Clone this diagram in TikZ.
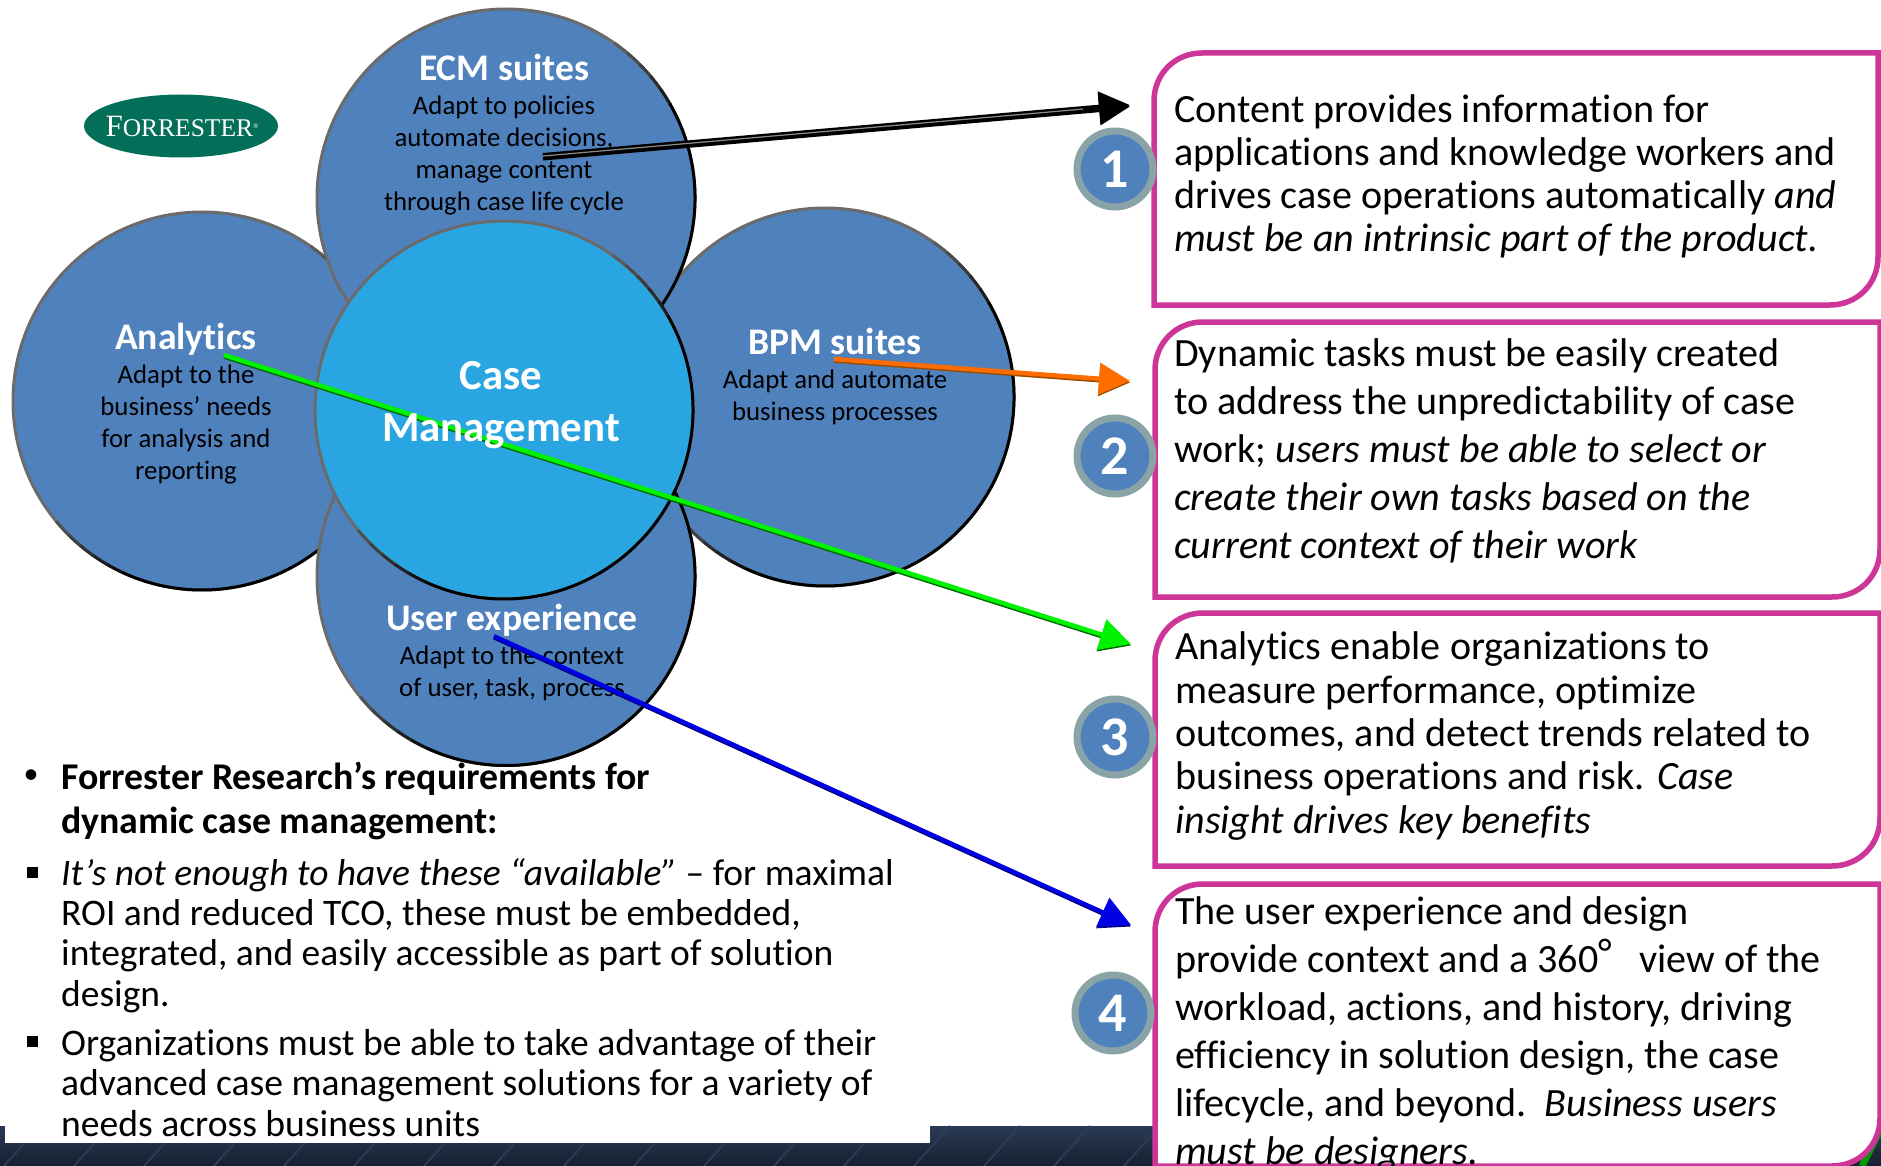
\documentclass[tikz,border=0pt]{standalone}
\usepackage{fontspec}
\setmainfont[RawFeature={-liga}]{Carlito}
\newfontfamily\logofont{Liberation Serif}
\usetikzlibrary{arrows.meta,shapes.geometric,calc}
\definecolor{petal}{HTML}{4F81BD}
\definecolor{hub}{HTML}{29A6E1}
\definecolor{rimgray}{HTML}{6B6B6B}
\definecolor{boxpink}{HTML}{CE3598}
\definecolor{badgerim}{HTML}{8AA3A6}
\definecolor{navytop}{HTML}{2A3A55}
\definecolor{navybot}{HTML}{161F30}
\definecolor{navylight}{HTML}{2E3B55}
\definecolor{logogreen}{HTML}{046F58}
\newcommand{\fs}[2]{\fontsize{#1}{#2}\selectfont}
\newcommand{\diagbox}[4]{%
  \draw[pinkbox] (#1,#4) -- (#1,#2+48) .. controls (#1,#2+21) and (#1+21,#2) .. (#1+48,#2)
    -- (#3,#2) -- (#3,#4-48) .. controls (#3,#4-21) and (#3-21,#4) .. (#3-48,#4) -- cycle;}
\newcommand{\rimarc}[1]{%
  \foreach \ang/\mix in {55/15,50/30,45/45,40/60,35/75}{
    \draw[black!\mix!rimgray,line width=3pt] ($(#1.center)!189pt!(#1.\ang)$) arc[start angle=\ang,delta angle=-5.5,radius=189pt];}
  \foreach \ang/\mix in {-115/85,-120/70,-125/55,-130/40,-135/25}{
    \draw[black!\mix!rimgray,line width=3pt] ($(#1.center)!189pt!(#1.\ang)$) arc[start angle=\ang,delta angle=-5.5,radius=189pt];}
  \draw[black,line width=3pt] ($(#1.center)!189pt!(#1.30)$) arc[start angle=30,end angle=-115,radius=189pt];}
\newcommand{\bevelarrow}[6]{%
  \draw[line width=#5pt,#4,-{Triangle[length=31pt,width=31pt]},transform canvas={yshift=-#6pt}] (#1) -- (#2);
  \draw[line width=#5pt,#3,-{Triangle[length=31pt,width=31pt]}] (#1) -- (#2);}
\tikzset{
  petalc/.style={circle,draw=rimgray,line width=3pt,fill=petal,minimum size=378pt,inner sep=0pt},
  hubc/.style={petalc,fill=hub},
  pinkbox/.style={draw=boxpink,line width=5.5pt,fill=white,line join=miter},
  badge/.style={circle,draw=badgerim,line width=7pt,fill=petal,minimum size=76pt,inner sep=0pt,text=white,font=\fs{56}{56}\bfseries},
  head/.style={text=white,font=\fs{37.6}{37.6}\bfseries,inner sep=0pt},
  body/.style={text=black,align=center,font=\fs{26.8}{32},inner sep=0pt},
  hubt/.style={text=white,font=\fs{42.8}{52}\bfseries,align=center,inner sep=0pt},
  para/.style={anchor=west,align=left,inner sep=0pt,text=black},
}
\begin{document}
\begin{tikzpicture}[x=1pt,y=-1pt]
\useasboundingbox (0,0) rectangle (1881,1166);
% band
\shade[top color=navytop,bottom color=navybot] (0,1126) rectangle (1881,1166);
\foreach \sx in {40,110,...,1880}
  \draw[navylight,line width=2pt] (\sx,1126) -- (\sx-36,1166);
\draw[green!60!black,line width=7pt] (1881,1128) -- (1862,1166);
\fill[white] (5,740) rectangle (930,1143);
% petals
\node[petalc] (analytics) at (202,401) {}; \rimarc{analytics}
\node[petalc] (bpm) at (825,397) {}; \rimarc{bpm}
\node[petalc] (ecm) at (506,198) {}; \rimarc{ecm}
\node[petalc] (ux) at (506,576.5) {}; \rimarc{ux}
\node[hubc] (hub) at (504,410) {}; \rimarc{hub}
% logo
\node[ellipse,fill=logogreen,minimum width=194pt,minimum height=63pt,inner sep=0pt] (logo) at (181,126) {};
\node[text=white,inner sep=0pt] (logotext) at (182,126) {\logofont\fs{31}{31}F\fs{25.5}{25.5}ORRESTER\raisebox{8pt}{\fs{7}{7}®}};
% petal texts
\node[head] (ecmh) at (504,67) {ECM suites};
\node[body] (ecmb) at (504,156) {Adapt to policies\\automate decisions,\\manage content\\through case life cycle};
\node[head] (anh) at (186,339) {Analytics};
\node[body] (anb) at (186,424.5) {Adapt to the\\business' needs\\for analysis and\\reporting};
\node[head] (bpmh) at (835,341) {BPM suites};
\node[body] (bpmb) at (835,397) {Adapt and automate\\business processes};
\node[head] (uxh) at (512,620) {User experience};
\node[body] (uxb) at (512,673) {Adapt to the context\\of user, task, process};
% arrow ends
\coordinate (a1s) at (543,156); \coordinate (a1e) at (1130,105);
\coordinate (a2s) at (834,359); \coordinate (a2e) at (1130,381);
\coordinate (a3s) at (224,355); \coordinate (a3e) at (1131,644);
\coordinate (a4s) at (494,636); \coordinate (a4e) at (1131,925);
% text boxes
\diagbox{1154}{53}{1878}{305}
\diagbox{1155}{322}{1880}{597}
\diagbox{1155}{613}{1880}{866}
\diagbox{1155}{884}{1880}{1166}
% arrows
\bevelarrow{a1s}{a1e}{black}{black}{6}{1.5}
\draw[black!45,line width=1.2pt] (a1s) -- ($(a1s)!0.92!(a1e)$);
\bevelarrow{a2s}{a2e}{orange!85!red}{orange!60!black}{4.5}{1.5}
\bevelarrow{a3s}{a3e}{green!95!black}{green!40!black}{4.5}{1.5}
\bevelarrow{a4s}{a4e}{blue!90!black}{blue!50!black}{4}{1.5}
% hub text
\node[hubt] (hubtext) at (501,405.5) {Case\\Management};
% badges
\node[badge] (b1) at (1115,169) {1};
\node[badge] (b2) at (1115,456) {2};
\node[badge] (b3) at (1115,737) {3};
\node[badge] (b4) at (1113,1013) {4};
% box texts
\node[para,font=\fs{40.1}{43.2}] (t1) at (1174,176.5) {Content provides information for\\applications and knowledge workers and\\drives case operations automatically \textit{and}\\\textit{must be an intrinsic part of the product.}};
\node[para,font=\fs{40.1}{48}] (t2) at (1174,451) {Dynamic tasks must be easily created\\to address the unpredictability of case\\work; \textit{users must be able to select or}\\\textit{create their own tasks based on the}\\\textit{current context of their work}};
\node[para,font=\fs{40.1}{43.3}] (t3) at (1175,736) {Analytics enable organizations to\\measure performance, optimize\\outcomes, and detect trends related to\\business operations and risk. \textit{Case}\\\textit{insight drives key benefits}};
\node[para,font=\fs{40.1}{48}] (t4) at (1175,1034.5) {The user experience and design\\provide context and a 360\raisebox{6pt}{°}\ \ \ view of the\\workload, actions, and history, driving\\efficiency in solution design, the case\\lifecycle, and beyond.\ \ \textit{Business users}\\\textit{must be designers.}};
% bullets
\node[para,font=\fs{37.8}{44}\bfseries] (p1) at (61,801) {Forrester Research’s requirements for\\dynamic case management:};
\node[para,font=\fs{37.5}{40.4}] (p2) at (61,935.5) {\textit{It’s not enough to have these “available”} – for maximal\\ROI and reduced TCO, these must be embedded,\\integrated, and easily accessible as part of solution\\design.};
\node[para,font=\fs{37.6}{40.4}] (p3) at (61,1083) {Organizations must be able to take advantage of their\\advanced case management solutions for a variety of\\needs across business units};
\node[inner sep=0pt,font=\fs{30}{30}] (dot) at (31,777) {•};
\node[fill=black,minimum size=11pt,inner sep=0pt] (sq1) at (32,872) {};
\node[fill=black,minimum size=11pt,inner sep=0pt] (sq2) at (32,1041) {};
\end{tikzpicture}
\end{document}
